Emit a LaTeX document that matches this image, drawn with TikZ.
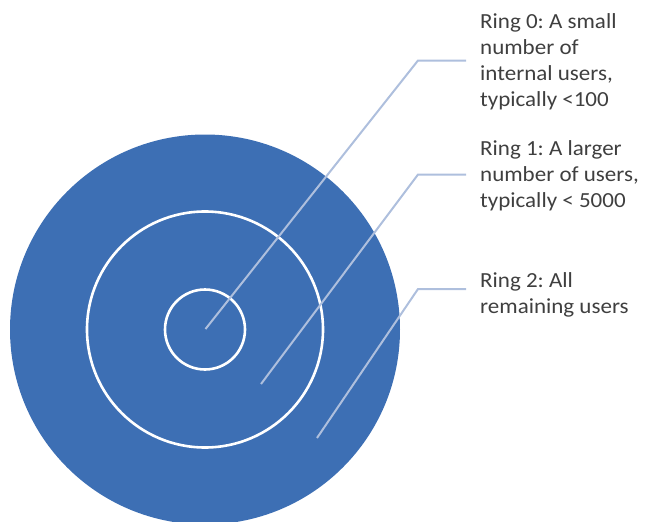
\documentclass[tikz,border=0pt]{standalone}
\usepackage{fontspec}
\setmainfont{Carlito}[FakeStretch=1.07]
\definecolor{ringblue}{HTML}{3D6FB4}
\definecolor{leader}{HTML}{AEBFDD}
\definecolor{txt}{HTML}{3F3F3F}
\begin{document}
\frenchspacing
\begin{tikzpicture}[x=1pt,y=-1pt,
  disc/.style={circle,inner sep=0pt,fill=ringblue},
  ring/.style={circle,inner sep=0pt,draw=white,line width=2.6pt},
  leaderline/.style={draw=leader,line width=2pt},
  label/.style={anchor=base west,align=left,inner sep=0pt,text=txt,
    font=\fontsize{21.5}{25.7}\selectfont}]
\useasboundingbox (0,0) rectangle (646,522);
\node[disc,minimum size=390pt] (outer) at (205,329.5) {};
\node[ring,minimum size=236pt] (mid) at (205,329.5) {};
\node[ring,minimum size=80pt] (inner) at (205,329.5) {};
\coordinate (p0) at (205.5,329);
\coordinate (p1) at (261,384);
\coordinate (p2) at (317,438);
\coordinate (e0) at (418,60.5);
\coordinate (e1) at (418,174.5);
\coordinate (e2) at (418,289);
\coordinate (h0) at (466,60.5);
\coordinate (h1) at (466,174.5);
\coordinate (h2) at (466,289);
\draw[leaderline] (p0) -- (e0) -- (h0);
\draw[leaderline] (p1) -- (e1) -- (h1);
\draw[leaderline] (p2) -- (e2) -- (h2);
\node[label] (t0) at (480,106) {Ring 0: A small\\number of\\internal users,\\typically <100};
\node[label] (t1) at (480,207) {Ring 1: A larger\\number of users,\\typically < 5000};
\node[label] (t2) at (480,313) {Ring 2: All\\remaining users};
\end{tikzpicture}
\end{document}
